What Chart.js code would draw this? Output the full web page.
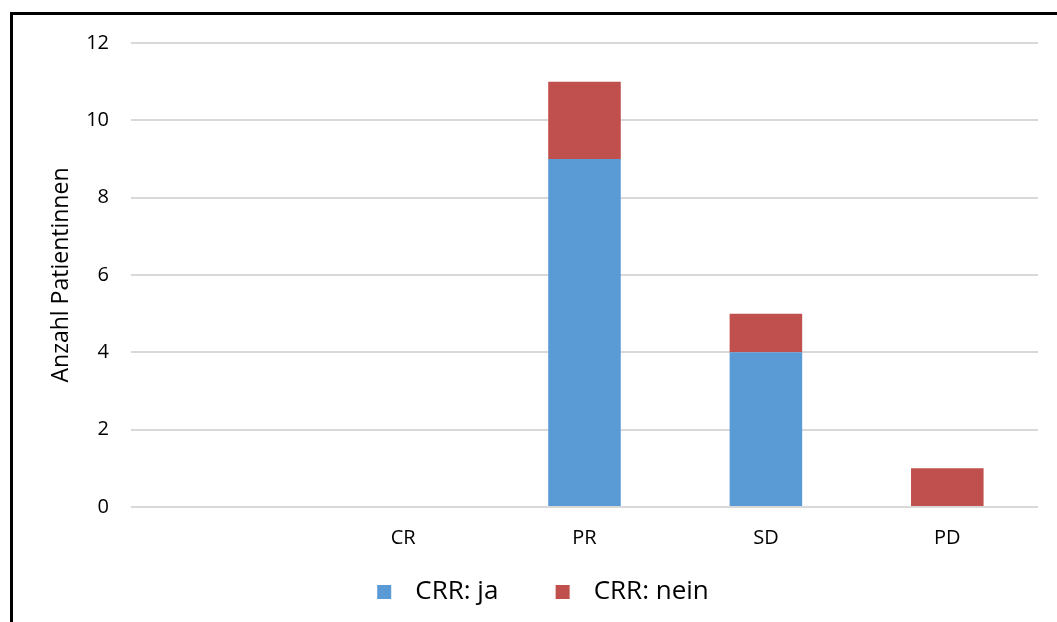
<!DOCTYPE html>
<html>
<head>
<meta charset="utf-8">
<script src="https://cdn.jsdelivr.net/npm/chart.js@4"></script>
<style>
  html, body { margin: 0; padding: 0; background: #fff; overflow: hidden; }
  #frame {
    position: absolute; left: 10px; top: 12px; width: 1200px; height: 700px;
    border-left: 3px solid #000; border-top: 3px solid #000; box-sizing: border-box;
  }
  #wrap { position: absolute; left: 0; top: 0; width: 1057px; height: 622px; }
</style>
</head>
<body>
<div id="frame"></div>
<div id="wrap"><canvas id="c" width="1057" height="622"></canvas></div>
<script>
// Response categories (first slot is an unlabeled spacer)
const categories = ['', 'CR', 'PR', 'SD', 'PD'];
// Patient counts per response group
const crrJa = [0, 0, 9, 4, 0];
const crrNein = [0, 0, 2, 1, 1];
const seriesNames = ['CRR: ja', 'CRR: nein'];
const yTicks = [0, 2, 4, 6, 8, 10, 12];

const FONT = '"Open Sans", "DejaVu Sans", sans-serif';

new Chart(document.getElementById('c'), {
  type: 'bar',
  data: {
    labels: categories,
    datasets: [
      { label: seriesNames[0], data: crrJa, backgroundColor: '#5B9BD5', barPercentage: 0.4, categoryPercentage: 1 },
      { label: seriesNames[1], data: crrNein, backgroundColor: '#C0504D', barPercentage: 0.4, categoryPercentage: 1 }
    ]
  },
  options: {
    responsive: false,
    animation: false,
    devicePixelRatio: 1,
    layout: { padding: { left: 48, right: 19, top: 43, bottom: 7 } },
    plugins: {
      tooltip: { enabled: false },
      legend: {
        position: 'bottom',
        labels: {
          font: { family: FONT, size: 26 },
          color: '#000',
          boxWidth: 14,
          boxHeight: 14,
          padding: 10,
          generateLabels(chart) {
            return chart.data.datasets.map((ds, i) => ({
              text: ' \u2009' + ds.label + (i === 0 ? '       ' : ''),
              fillStyle: ds.backgroundColor,
              strokeStyle: ds.backgroundColor,
              lineWidth: 0,
              datasetIndex: i,
              fontColor: '#000'
            }));
          }
        }
      }
    },
    scales: {
      x: {
        stacked: true,
        grid: { display: false, drawTicks: false },
        border: { display: false },
        ticks: { font: { family: FONT, size: 20 }, color: '#000', padding: 19 }
      },
      y: {
        stacked: true,
        min: 0,
        max: 12,
        afterFit(scale) { scale.width = 83; },
        afterBuildTicks(scale) { scale.ticks = yTicks.map(v => ({ value: v })); },
        grid: { color: '#d9d9d9', lineWidth: 2, drawTicks: false },
        border: { display: false },
        ticks: { font: { family: FONT, size: 20 }, color: '#000', padding: 22 },
        title: {
          display: true,
          text: 'Anzahl Patientinnen',
          font: { family: FONT, size: 23 },
          color: '#000',
          padding: { top: 0, bottom: 0 }
        }
      }
    }
  }
});
</script>
</body>
</html>
